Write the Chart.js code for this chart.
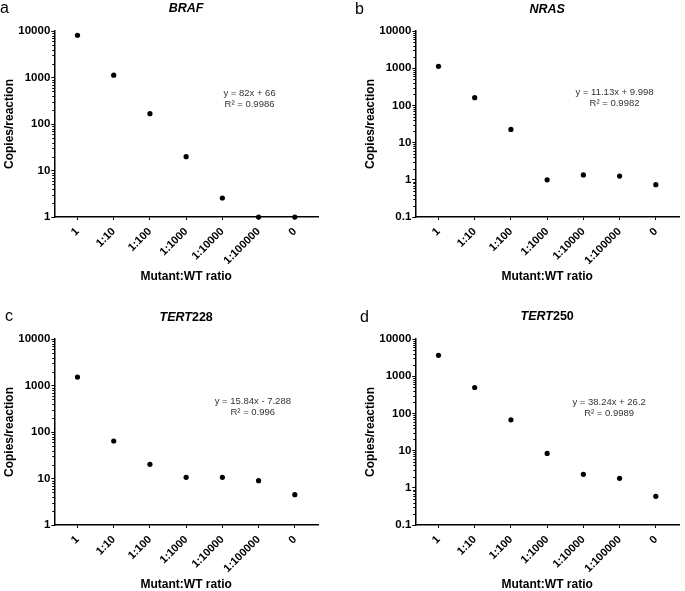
<!DOCTYPE html>
<html>
<head>
<meta charset="utf-8">
<script src="https://cdn.jsdelivr.net/npm/chart.js@4.4.1/dist/chart.umd.min.js"></script>
<style>
    body { margin: 0; width: 685px; height: 591px; overflow: hidden; background: #fff; position: relative; }
    .panel { position: absolute; }
</style>
</head>
<body>
<div class="panel" style="left:0;top:0"><canvas id="chartA"></canvas></div>
<div class="panel" style="left:342px;top:0"><canvas id="chartB"></canvas></div>
<div class="panel" style="left:0;top:308px"><canvas id="chartC"></canvas></div>
<div class="panel" style="left:342px;top:308px"><canvas id="chartD"></canvas></div>
<script>
const ratios = ['1', '1:10', '1:100', '1:1000', '1:10000', '1:100000', '0'];

const brafCopies = [8100, 1120, 167, 19.8, 2.56, 1.0, 1.0];
const nrasCopies = [1120, 161, 22.6, 1.0, 1.35, 1.26, 0.74];
const tert228Copies = [1520, 64, 20.2, 10.6, 10.6, 8.97, 4.48];
const tert250Copies = [3650, 497, 67, 8.4, 2.3, 1.8, 0.59];

const yTicksFrom1 = [1, 10, 100, 1000, 10000];
const yTicksFrom01 = [0.1, 1, 10, 100, 1000, 10000];

const fontFamily = '"Liberation Sans", Arial, Helvetica, sans-serif';

// labels, small tick marks and the fit text
const panelText = {
    id: 'panelText',
    afterDraw(chart, args, opts) {
        const ctx = chart.ctx;
        const area = chart.chartArea;
        const y = chart.scales.y;
        const x = chart.scales.x;

        // minor log ticks
        ctx.save();
        ctx.strokeStyle = '#000';
        ctx.lineWidth = 1;
        ctx.beginPath();
        for (let d = y.min; d < y.max; d *= 10) {
            for (let k = 2; k <= 9; k++) {
                const py = Math.round(y.getPixelForValue(d * k)) + 0.5;
                ctx.moveTo(area.left - 2, py);
                ctx.lineTo(area.left, py);
            }
        }
        ctx.stroke();

        // panel letter
        ctx.fillStyle = '#000';
        ctx.textBaseline = 'alphabetic';
        ctx.textAlign = 'left';
        ctx.font = '16px ' + fontFamily;
        ctx.fillText(opts.letter, opts.letterX, opts.letterY);

        // gene title, italic part + plain part
        ctx.font = 'italic bold 12.5px ' + fontFamily;
        const w1 = ctx.measureText(opts.gene).width;
        ctx.font = 'bold 12.5px ' + fontFamily;
        const w2 = ctx.measureText(opts.suffix).width;
        const cx = (area.left + area.right) / 2;
        let sx = cx - (w1 + w2) / 2;
        ctx.font = 'italic bold 12.5px ' + fontFamily;
        ctx.fillText(opts.gene, sx, opts.titleY);
        ctx.font = 'bold 12.5px ' + fontFamily;
        ctx.fillText(opts.suffix, sx + w1, opts.titleY);

        // regression text
        ctx.fillStyle = '#333';
        ctx.textAlign = 'center';
        ctx.font = '9.5px ' + fontFamily;
        const tx = x.getPixelForValue(opts.fitAt[0]);
        const ty = y.getPixelForValue(opts.fitAt[1]);
        ctx.fillText(opts.fitLine, tx, ty + 3);
        ctx.fillText(opts.r2, tx, ty + 14);
        ctx.restore();
    }
};

function makeChart(id, values, yTicks, shiftX, text) {
    const canvas = document.getElementById(id);
    canvas.width = 322 + shiftX;
    canvas.height = 284;
    canvas.style.width = canvas.width + 'px';
    canvas.style.height = canvas.height + 'px';

    return new Chart(canvas.getContext('2d'), {
        type: 'scatter',
        data: {
            datasets: [{
                data: values.map((v, i) => ({ x: i, y: v })),
                pointRadius: 2.6,
                pointBackgroundColor: '#000',
                pointBorderWidth: 0,
                clip: false
            }]
        },
        options: {
            responsive: false,
            animation: false,
            devicePixelRatio: 1,
            layout: { padding: { left: 2 + shiftX, top: 31, right: 1, bottom: 0 } },
            plugins: {
                legend: { display: false },
                tooltip: { enabled: false },
                panelText: text
            },
            scales: {
                x: {
                    type: 'linear',
                    min: -0.64,
                    max: 6.64,
                    afterBuildTicks: s => { s.ticks = ratios.map((_, i) => ({ value: i })); },
                    afterFit: s => { s.height = 67; },
                    border: { color: '#000', width: 1.5 },
                    grid: { display: true, drawOnChartArea: false, color: '#000', lineWidth: 1, tickLength: 3 },
                    ticks: {
                        autoSkip: false,
                        minRotation: 45,
                        maxRotation: 45,
                        padding: 5,
                        color: '#000',
                        font: { family: fontFamily, size: 11, weight: 'bold' },
                        callback: v => ratios[v]
                    },
                    title: {
                        display: true,
                        text: 'Mutant:WT ratio',
                        color: '#000',
                        padding: 0,
                        font: { family: fontFamily, size: 12, weight: 'bold' }
                    }
                },
                y: {
                    type: 'logarithmic',
                    min: yTicks[0],
                    max: yTicks[yTicks.length - 1],
                    afterBuildTicks: s => { s.ticks = yTicks.map(v => ({ value: v })); },
                    afterFit: s => { s.width = 52.3; },
                    border: { color: '#000', width: 1.5 },
                    grid: { display: true, drawOnChartArea: false, color: '#000', lineWidth: 1, tickLength: 3 },
                    ticks: {
                        padding: 1,
                        color: '#000',
                        font: { family: fontFamily, size: 11.5, weight: 'bold' },
                        callback: v => String(v)
                    },
                    title: {
                        display: true,
                        text: 'Copies/reaction',
                        color: '#000',
                        padding: 0,
                        font: { family: fontFamily, size: 12, weight: 'bold' }
                    }
                }
            }
        },
        plugins: [panelText]
    });
}

makeChart('chartA', brafCopies, yTicksFrom1, 0, {
    letter: 'a', letterX: 0, letterY: 13.3, gene: 'BRAF', suffix: '', titleY: 11.7,
    fitLine: 'y = 82x + 66', r2: 'R\u00b2 = 0.9986', fitAt: [4.75, 470]
});
makeChart('chartB', nrasCopies, yTicksFrom01, 19, {
    letter: 'b', letterX: 13, letterY: 14, gene: 'NRAS', suffix: '', titleY: 12.5,
    fitLine: 'y = 11.13x + 9.998', r2: 'R\u00b2 = 0.9982', fitAt: [4.86, 229]
});
makeChart('chartC', tert228Copies, yTicksFrom1, 0, {
    letter: 'c', letterX: 5, letterY: 13, gene: 'TERT', suffix: '228', titleY: 13,
    fitLine: 'y = 15.84x - 7.288', r2: 'R\u00b2 = 0.996', fitAt: [4.84, 468]
});
makeChart('chartD', tert250Copies, yTicksFrom01, 19, {
    letter: 'd', letterX: 18, letterY: 13.7, gene: 'TERT', suffix: '250', titleY: 11.5,
    fitLine: 'y = 38.24x + 26.2', r2: 'R\u00b2 = 0.9989', fitAt: [4.71, 204]
});
</script>
</body>
</html>
